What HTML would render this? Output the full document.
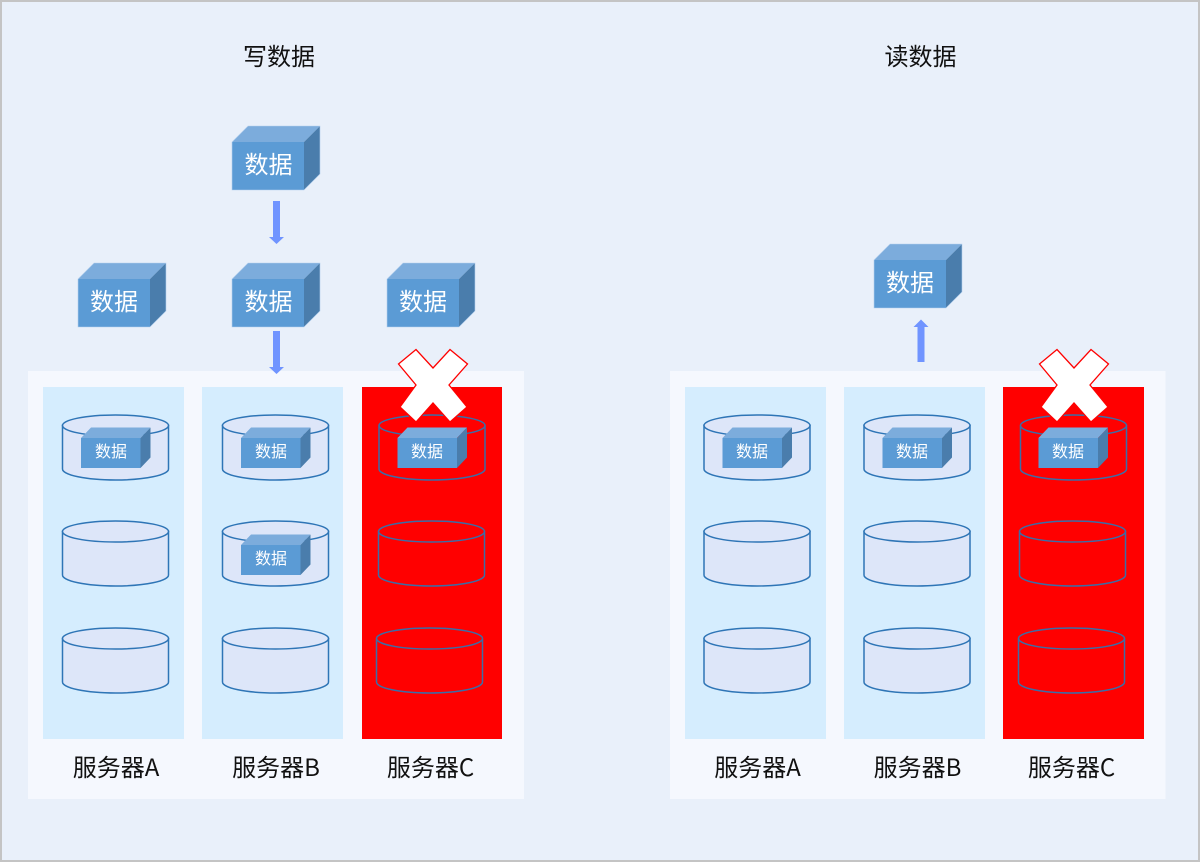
<!DOCTYPE html>
<html lang="zh">
<head>
<meta charset="utf-8">
<title>写数据 读数据</title>
<style>
html,body{margin:0;padding:0;background:#e9f0fa;}
svg{display:block;}
text{font-family:"Noto Sans CJK SC",sans-serif;}
.t{font-size:24px;fill:#111;text-anchor:middle;}
.w{font-size:24px;fill:#fff;text-anchor:middle;}
.s{font-size:16px;fill:#fff;text-anchor:middle;}
</style>
</head>
<body>
<svg width="1200" height="862" viewBox="0 0 1200 862" xmlns="http://www.w3.org/2000/svg">
<defs>
<g id="cyl" stroke="#2e75b6" stroke-width="1.500">
<path d="M0.500 10.500V54A53 11 0 0 0 106.500 54V10.500Z" fill="#dde6f9"/>
<ellipse cx="53.500" cy="10.500" rx="53" ry="10.500" fill="#dde6f9"/>
</g>
<g id="cylr" stroke="#3a6ea8" stroke-width="1.500" fill="none">
<path d="M0.500 10.500V54A53 11 0 0 0 106.500 54V10.500"/>
<ellipse cx="53.500" cy="10.500" rx="53" ry="10.500"/>
</g>
<g id="big">
<path d="M0 0L16-16H88L72 0Z" fill="#7cacdc"/>
<path d="M72 0L88-16V32L72 48Z" fill="#4a7dac"/>
<rect x="0" y="0" width="72" height="48" fill="#5b9bd5"/>
<path d="M0 48H72L88 32V-16H16L0 0V48Z" fill="none" stroke="#b5d0ee" stroke-width="0.600"/>
</g>
<g id="small">
<path d="M0 0L10-10.500H69.500L59.500 0Z" fill="#7cacdc"/>
<path d="M59.500 0L69.500-10.500V19.500L59.500 30Z" fill="#4a7dac"/>
<rect x="0" y="0" width="59.500" height="30" fill="#5b9bd5"/>
</g>
<path id="x" d="M398.500 364L416 349.500L433 368L450 349.500L467.500 364L449 385L467 407L450 422L433 403L416 422L400 407L416 385Z" fill="#fff" stroke="#f00" stroke-width="1.300"/>
<path id="down" d="M273 0H280V36H284L276.500 43L269 36H273Z" fill="#7094ff"/>
</defs>

<rect x="1" y="1" width="1198" height="860" fill="#e9f0fa" stroke="#c4c4c4" stroke-width="2"/>

<text class="t" x="279" y="65">写数据</text>
<text class="t" x="920.500" y="65">读数据</text>

<!-- panels -->
<rect x="28" y="371" width="496" height="428" fill="#f5f8fe"/>
<rect x="670" y="371" width="495.500" height="428" fill="#f5f8fe"/>

<rect x="43" y="387" width="141" height="352" fill="#d5edfe"/>
<rect x="202" y="387" width="141" height="352" fill="#d5edfe"/>
<rect x="362" y="387" width="140" height="352" fill="#f00"/>
<rect x="685" y="387" width="141" height="352" fill="#d5edfe"/>
<rect x="844" y="387" width="141" height="352" fill="#d5edfe"/>
<rect x="1003" y="387" width="141" height="352" fill="#f00"/>

<!-- cylinders left -->
<use href="#cyl" x="62" y="415"/>
<use href="#cyl" x="62" y="521"/>
<use href="#cyl" x="62" y="628"/>
<use href="#cyl" x="222" y="415"/>
<use href="#cyl" x="222" y="521"/>
<use href="#cyl" x="222" y="628"/>
<use href="#cylr" x="378.500" y="415"/>
<use href="#cylr" x="378" y="521"/>
<use href="#cylr" x="376" y="628"/>

<!-- cylinders right -->
<use href="#cyl" x="703.500" y="415"/>
<use href="#cyl" x="703.500" y="521"/>
<use href="#cyl" x="703.500" y="628"/>
<use href="#cyl" x="863.500" y="415"/>
<use href="#cyl" x="863.500" y="521"/>
<use href="#cyl" x="863.500" y="628"/>
<use href="#cylr" x="1020" y="415"/>
<use href="#cylr" x="1019" y="521"/>
<use href="#cylr" x="1018" y="628"/>

<!-- X marks -->
<use href="#x"/>
<use href="#x" x="641"/>

<!-- small cubes -->
<use href="#small" x="81" y="438"/><text class="s" x="111" y="457">数据</text>
<use href="#small" x="241" y="438"/><text class="s" x="271" y="457">数据</text>
<use href="#small" x="397.500" y="438"/><text class="s" x="427" y="457">数据</text>
<use href="#small" x="241" y="545"/><text class="s" x="271" y="564">数据</text>
<use href="#small" x="722.500" y="438"/><text class="s" x="752" y="457">数据</text>
<use href="#small" x="882.500" y="438"/><text class="s" x="912" y="457">数据</text>
<use href="#small" x="1038.500" y="438"/><text class="s" x="1068" y="457">数据</text>

<!-- big cubes -->
<use href="#big" x="232" y="142"/><text class="w" x="268.500" y="173">数据</text>
<use href="#big" x="78" y="279"/><text class="w" x="114" y="310">数据</text>
<use href="#big" x="232" y="279"/><text class="w" x="268.500" y="310">数据</text>
<use href="#big" x="387" y="279"/><text class="w" x="423" y="310">数据</text>
<use href="#big" x="874" y="260"/><text class="w" x="910" y="291">数据</text>

<!-- arrows -->
<use href="#down" y="201"/>
<use href="#down" y="331"/>
<path d="M917.500 362H924.500V327H928.500L921 319.500L913.500 327H917.500Z" fill="#7094ff"/>

<!-- labels -->
<text class="t" x="116" y="776">服务器A</text>
<text class="t" x="276" y="776">服务器B</text>
<text class="t" x="430.500" y="776">服务器C</text>
<text class="t" x="757.500" y="776">服务器A</text>
<text class="t" x="917.500" y="776">服务器B</text>
<text class="t" x="1071.500" y="776">服务器C</text>
</svg>
</body>
</html>
